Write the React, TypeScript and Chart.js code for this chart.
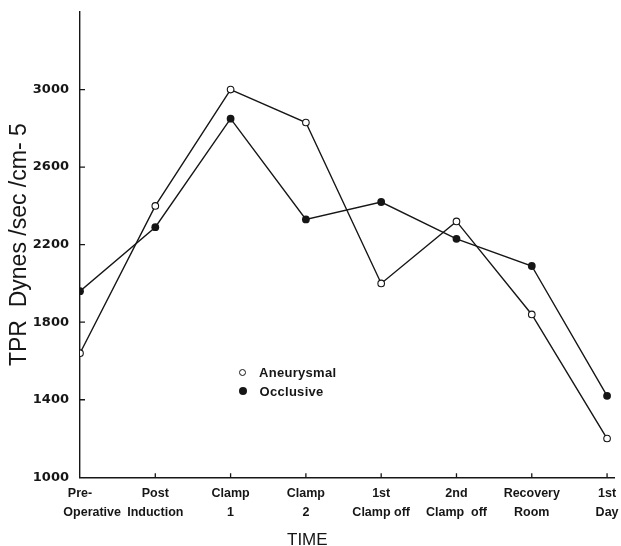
import { useEffect, useRef } from 'react';
import { Chart, Plugin, registerables } from 'chart.js';

Chart.register(...registerables);

// values
const timeLabels: string[][] = [
    ['Pre-', 'Operative'],
    ['Post', 'Induction'],
    ['Clamp', '1'],
    ['Clamp', '2'],
    ['1st', 'Clamp off'],
    ['2nd', 'Clamp  off'],
    ['Recovery', 'Room'],
    ['1st', 'Day'],
];
const seriesNames = ['Aneurysmal', 'Occlusive'];
const aneurysmal = [1640, 2400, 3000, 2830, 2000, 2320, 1840, 1200];
const occlusive = [1960, 2290, 2850, 2330, 2420, 2230, 2090, 1420];
const yTicks = [1000, 1400, 1800, 2200, 2600, 3000];

const INK = '#161616';
const SANS = '"Liberation Sans", Arial, sans-serif';

// the original draws its tick marks on the inside of the axes
const insideTicks: Plugin = {
    id: 'insideTicks',
    afterDatasetsDraw(chart) {
        const { ctx, chartArea, scales } = chart;
        ctx.save();
        ctx.strokeStyle = INK;
        ctx.lineWidth = 1.3;
        ctx.beginPath();
        timeLabels.forEach((_, i) => {
            if (i === 0) return;
            const x = scales.x.getPixelForValue(i);
            ctx.moveTo(x, chartArea.bottom);
            ctx.lineTo(x, chartArea.bottom - 4);
        });
        yTicks.forEach((v) => {
            if (v === yTicks[0]) return;
            const y = scales.y.getPixelForValue(v);
            ctx.moveTo(chartArea.left, y);
            ctx.lineTo(chartArea.left + 5, y);
        });
        ctx.stroke();
        ctx.restore();
    }
};

export default function App() {
    const chartEl = useRef<HTMLCanvasElement>(null);

    useEffect(() => {
        const toPoints = (vals: number[]) => vals.map((y, i) => ({ x: i, y }));

        const myChart = new Chart(chartEl.current as HTMLCanvasElement, {
            type: 'line',
            data: {
                datasets: [
                    {
                        label: seriesNames[0],
                        data: toPoints(aneurysmal),
                        borderColor: INK,
                        borderWidth: 1.4,
                        pointRadius: 3.3,
                        pointBorderWidth: 1.1,
                        pointBackgroundColor: '#fff',
                        pointBorderColor: INK,
                    },
                    {
                        label: seriesNames[1],
                        data: toPoints(occlusive),
                        borderColor: INK,
                        borderWidth: 1.4,
                        pointRadius: 3.9,
                        pointBorderWidth: 0,
                        pointBackgroundColor: INK,
                        pointBorderColor: INK,
                    },
                ]
            },
            options: {
                animation: false,
                responsive: true,
                maintainAspectRatio: false,
                layout: { padding: { top: 12, right: 6.4, left: 0, bottom: 0 } },
                plugins: {
                    legend: { display: false },
                    tooltip: { enabled: false },
                    title: {
                        display: true,
                        position: 'bottom',
                        text: 'TIME',
                        color: INK,
                        font: { family: SANS, size: 17, lineHeight: 1, weight: 'normal' },
                        padding: { top: 3, bottom: -3 },
                    },
                },
                scales: {
                    x: {
                        type: 'linear',
                        min: 0,
                        max: 7.1,
                        grid: { display: false },
                        border: { display: true, color: INK, width: 1.4 },
                        afterBuildTicks: (s) => { s.ticks = timeLabels.map((_, i) => ({ value: i })); },
                        afterFit: (s) => {
                            s.height = 51.7;
                            s.paddingLeft = 0;
                            s.paddingRight = 0;
                        },
                        ticks: {
                            autoSkip: false,
                            maxRotation: 0,
                            padding: -1.6,
                            color: INK,
                            font: { family: SANS, size: 12.5, weight: 'bold', lineHeight: 1.52 },
                            callback: (v) => {
                                const lab = timeLabels[Number(v)];
                                if (!lab) return '';
                                // first label sits left-aligned against the axis in the original
                                return Number(v) === 0 ? [lab[0], '       ' + lab[1]] : lab;
                            },
                        },
                    },
                    y: {
                        min: 1000,
                        max: 3400,
                        grid: { display: false },
                        border: { display: true, color: INK, width: 1.4 },
                        afterBuildTicks: (s) => { s.ticks = yTicks.map((value) => ({ value })); },
                        afterFit: (s) => {
                            s.width = 80;
                            s.paddingTop = 0;
                            s.paddingBottom = 0;
                        },
                        ticks: {
                            padding: 3,
                            color: INK,
                            font: { family: '"DejaVu Sans", sans-serif', size: 13, weight: 'bold' },
                            callback: (v) => String(v),
                        },
                        title: {
                            display: true,
                            text: 'TPR  Dynes /sec /cm- 5',
                            color: INK,
                            font: { family: SANS, size: 23, weight: 'normal' },
                            padding: { top: 6, bottom: 0 },
                        },
                    },
                },
            },
            plugins: [insideTicks],
        });

        return () => {
            myChart.destroy();
        };
    }, []);

    const markers = [
        { background: '#fff', border: `1.1px solid ${INK}`, size: 7 },
        { background: INK, border: 'none', size: 8 },
    ];

    return (
        <div style={{ position: 'fixed', left: 0, top: 0, width: 621, height: 546, background: '#fff' }}>
            <canvas ref={chartEl}></canvas>
            <div style={{
                position: 'absolute', left: 239, top: 362.5, color: INK,
                font: `bold 13px ${SANS}`, lineHeight: '19px', letterSpacing: '0.3px'
            }}>
                {seriesNames.map((name, i) => (
                    <div key={name} style={{ display: 'flex', alignItems: 'center', height: 19 }}>
                        <span style={{
                            display: 'inline-block', boxSizing: 'border-box',
                            width: markers[i].size, height: markers[i].size, borderRadius: '50%',
                            background: markers[i].background, border: markers[i].border,
                            marginRight: 20 - markers[i].size - (i === 1 ? -0.5 : 0),
                        }} />
                        {name}
                    </div>
                ))}
            </div>
        </div>
    );
}
